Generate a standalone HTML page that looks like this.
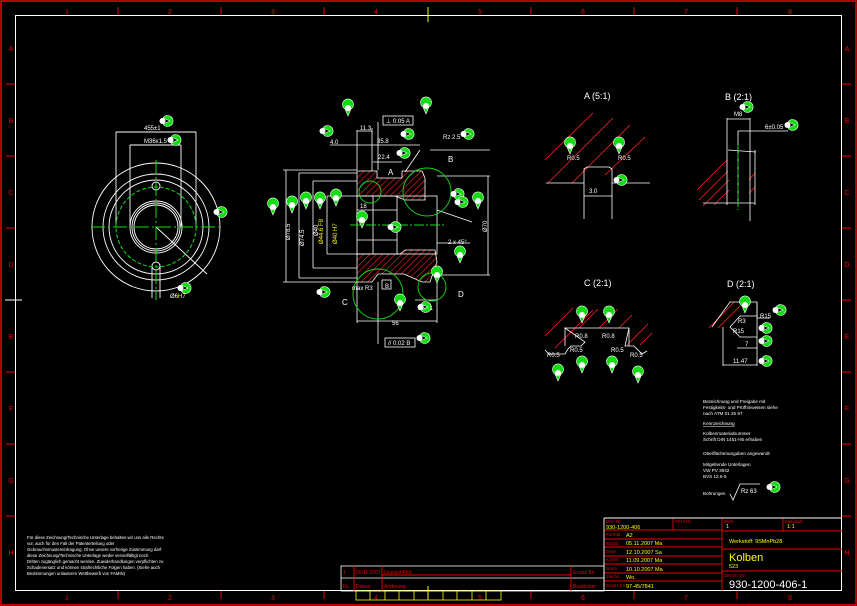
<!DOCTYPE html>
<html><head><meta charset="utf-8"><style>
html,body{margin:0;padding:0;background:#000;width:857px;height:606px;overflow:hidden}
svg{display:block}
text{font-family:"Liberation Sans",sans-serif}
</style></head><body>
<svg width="857" height="606" viewBox="0 0 857 606" xmlns="http://www.w3.org/2000/svg">
<defs>
<pattern id="h" width="4.5" height="4.5" patternUnits="userSpaceOnUse" patternTransform="rotate(45)">
<line x1="0" y1="0" x2="0" y2="4.5" stroke="#f22" stroke-width="1.2"/>
</pattern>
<g id="b"><path d="M0,0 l-7,-3 a5.5,5.5 0 1,1 0,6 z" fill="#1d1" stroke="#fff" stroke-width="0.6"/><circle cx="-7.5" cy="0" r="3" fill="#fff"/></g>
<g id="bd"><path d="M0,0 l-3,-7 a5.5,5.5 0 1,1 6,0 z" fill="#1d1" stroke="#fff" stroke-width="0.6"/><circle cx="0" cy="-8" r="3" fill="#fff"/></g>
</defs>
<rect x="0" y="0" width="857" height="606" fill="#000"/>
<rect x="1" y="1" width="855" height="604" fill="none" stroke="#e00" stroke-width="1.5"/>
<rect x="15.5" y="15.5" width="826" height="575" fill="none" stroke="#fff" stroke-width="1"/>
<g stroke="#e00" stroke-width="1">
<line x1="118" y1="7" x2="118" y2="15"/><line x1="221" y1="7" x2="221" y2="15"/><line x1="324" y1="7" x2="324" y2="15"/><line x1="428" y1="7" x2="428" y2="15"/><line x1="531" y1="7" x2="531" y2="15"/><line x1="634" y1="7" x2="634" y2="15"/><line x1="737" y1="7" x2="737" y2="15"/>
<line x1="118" y1="591" x2="118" y2="599"/><line x1="221" y1="591" x2="221" y2="599"/><line x1="324" y1="591" x2="324" y2="599"/><line x1="428" y1="591" x2="428" y2="599"/><line x1="531" y1="591" x2="531" y2="599"/><line x1="634" y1="591" x2="634" y2="599"/><line x1="737" y1="591" x2="737" y2="599"/>
<line x1="6" y1="84" x2="15" y2="84"/><line x1="6" y1="156" x2="15" y2="156"/><line x1="6" y1="228" x2="15" y2="228"/><line x1="6" y1="300" x2="15" y2="300"/><line x1="6" y1="372" x2="15" y2="372"/><line x1="6" y1="444" x2="15" y2="444"/><line x1="6" y1="516" x2="15" y2="516"/>
<line x1="842" y1="84" x2="851" y2="84"/><line x1="842" y1="156" x2="851" y2="156"/><line x1="842" y1="228" x2="851" y2="228"/><line x1="842" y1="300" x2="851" y2="300"/><line x1="842" y1="372" x2="851" y2="372"/><line x1="842" y1="444" x2="851" y2="444"/><line x1="842" y1="516" x2="851" y2="516"/>
</g>
<g fill="#e00" font-size="7" text-anchor="middle">
<text x="67" y="14">1</text><text x="170" y="14">2</text><text x="273" y="14">3</text><text x="376" y="14">4</text><text x="480" y="14">5</text><text x="583" y="14">6</text><text x="686" y="14">7</text><text x="790" y="14">8</text>
<text x="67" y="600">1</text><text x="170" y="600">2</text><text x="273" y="600">3</text><text x="376" y="600">4</text><text x="480" y="600">5</text><text x="583" y="600">6</text><text x="686" y="600">7</text><text x="790" y="600">8</text>
<text x="11" y="51">A</text><text x="11" y="123">B</text><text x="11" y="195">C</text><text x="11" y="267">D</text><text x="11" y="339">E</text><text x="11" y="411">F</text><text x="11" y="483">G</text><text x="11" y="555">H</text>
<text x="847" y="51">A</text><text x="847" y="123">B</text><text x="847" y="195">C</text><text x="847" y="267">D</text><text x="847" y="339">E</text><text x="847" y="411">F</text><text x="847" y="483">G</text><text x="847" y="555">H</text>
</g>
<line x1="428" y1="7" x2="428" y2="22" stroke="#ff0"/><line x1="428" y1="586" x2="428" y2="599" stroke="#ff0"/>
<line x1="5" y1="300" x2="22" y2="300" stroke="#fff"/>

<!-- left view -->
<g fill="none" stroke="#fff" stroke-width="0.9">
<circle cx="156" cy="227" r="64"/><circle cx="156" cy="227" r="53"/><circle cx="156" cy="227" r="47"/>
<circle cx="156" cy="227" r="26"/><circle cx="156" cy="227" r="24"/><circle cx="156" cy="227" r="22"/>
<circle cx="156" cy="186" r="4"/><circle cx="156" cy="266" r="4"/>
<line x1="152" y1="266" x2="152" y2="298"/><line x1="160" y1="266" x2="160" y2="298"/>
<line x1="116" y1="132" x2="116" y2="227"/><line x1="196" y1="132" x2="196" y2="227"/><line x1="116" y1="132" x2="196" y2="132"/>
<line x1="130" y1="145" x2="130" y2="227"/><line x1="181" y1="145" x2="181" y2="227"/><line x1="130" y1="145" x2="181" y2="145"/>
<line x1="156" y1="227" x2="207" y2="274"/>
</g>
<circle cx="156" cy="227" r="40" fill="none" stroke="#1d1" stroke-dasharray="4 2"/>
<line x1="91" y1="227" x2="219" y2="227" stroke="#1d1" stroke-dasharray="14 3 2 3"/>
<line x1="156" y1="160" x2="156" y2="300" stroke="#1d1" stroke-dasharray="14 3 2 3"/>
<g fill="#fff" font-size="6"><text x="144" y="130">455±1</text><text x="144" y="143">M36x1.5</text><text x="170" y="298">Ø6</text></g>
<text x="178" y="298" fill="#ff0" font-size="6">H7</text>
<use href="#b" x="170" y="121"/><use href="#b" x="178" y="140"/><use href="#b" x="224" y="212"/><use href="#b" x="188" y="288"/>

<!-- main section -->
<polygon points="357,171 377,171 377,178 402,178 402,171 422,171 425,178 425,200 405,200 395,196 357,196" fill="url(#h)" stroke="#fff" stroke-width="0.8"/>
<polygon points="357,254 400,254 405,250 435,250 437,262 430,282 422,282 404,274 378,274 372,282 357,282" fill="url(#h)" stroke="#fff" stroke-width="0.8"/>
<g fill="none" stroke="#fff" stroke-width="0.8">
<rect x="357" y="196" width="80" height="58"/>
<line x1="373" y1="196" x2="373" y2="254"/><line x1="397" y1="196" x2="397" y2="254"/>
<line x1="357" y1="240" x2="397" y2="240"/><line x1="357" y1="210" x2="397" y2="210"/>
<line x1="283" y1="170" x2="357" y2="170"/><line x1="283" y1="282" x2="357" y2="282"/>
<line x1="299" y1="173" x2="357" y2="173"/><line x1="299" y1="278" x2="357" y2="278"/>
<line x1="313" y1="181" x2="357" y2="181"/><line x1="313" y1="268" x2="357" y2="268"/>
<line x1="327" y1="196" x2="357" y2="196"/><line x1="327" y1="254" x2="357" y2="254"/>
<line x1="286" y1="170" x2="286" y2="282"/><line x1="299" y1="173" x2="299" y2="278"/><line x1="313" y1="181" x2="313" y2="268"/><line x1="327" y1="196" x2="327" y2="254"/>
<line x1="437" y1="176" x2="490" y2="176"/><line x1="437" y1="275" x2="490" y2="275"/><line x1="488" y1="176" x2="488" y2="275"/>
<line x1="357" y1="130" x2="357" y2="170"/><line x1="372" y1="128" x2="372" y2="171"/><line x1="357" y1="131" x2="372" y2="131"/>
<line x1="330" y1="145" x2="420" y2="145"/><line x1="373" y1="162" x2="402" y2="162"/>
<line x1="357" y1="282" x2="357" y2="323"/><line x1="437" y1="282" x2="437" y2="323"/><line x1="357" y1="321" x2="437" y2="321"/>
<line x1="415" y1="300" x2="437" y2="300"/>
<line x1="378" y1="122" x2="378" y2="170"/><rect x="383" y="116" width="30" height="9"/>
<line x1="378" y1="282" x2="378" y2="344"/><rect x="385" y="338" width="30" height="9"/>
<rect x="382" y="280" width="9" height="9"/>
<line x1="430" y1="150" x2="490" y2="150"/><line x1="420" y1="150" x2="405" y2="172"/>
<line x1="437" y1="210" x2="472" y2="222"/><line x1="437" y1="243" x2="470" y2="243"/>
</g>
<line x1="350" y1="225" x2="445" y2="225" stroke="#1d1" stroke-dasharray="10 2 2 2"/>
<g fill="none" stroke="#1d1" stroke-width="0.9">
<circle cx="370" cy="192" r="11"/><circle cx="427" cy="192" r="24"/><circle cx="378" cy="294" r="25"/><circle cx="432" cy="287" r="14"/>
</g>
<g fill="#fff" font-size="6">
<text x="360" y="130">11.3</text><text x="330" y="144">4.0</text><text x="377" y="143">35.8</text><text x="378" y="159">22.4</text>
<text x="386" y="123">⊥ 0.05 A</text><text x="388" y="345">// 0.02 B</text><text x="443" y="139">Rz 2.5</text>
<text x="448" y="244">2 x 45°</text><text x="352" y="290">max R3</text><text x="392" y="325">56</text><text x="418" y="310">15.01</text>
<text x="360" y="208">18</text><text x="385" y="288">B</text>
</g>
<g fill="#fff" font-size="8"><text x="388" y="175">A</text><text x="448" y="162">B</text><text x="342" y="305">C</text><text x="458" y="297">D</text></g>
<g fill="#fff" font-size="6"><text transform="translate(290,240) rotate(-90)">Ø78.5</text><text transform="translate(304,246) rotate(-90)">Ø74.5</text><text transform="translate(318,236) rotate(-90)">Ø40</text><text transform="translate(487,232) rotate(-90)">Ø70</text></g>
<g font-size="6" fill="#ff0"><text transform="translate(323,244) rotate(-90)">Ø44.6 F8</text><text transform="translate(337,244) rotate(-90)">Ø40 H7</text></g>
<use href="#bd" x="348" y="116"/><use href="#b" x="330" y="131"/><use href="#bd" x="426" y="114"/><use href="#b" x="411" y="134"/><use href="#b" x="471" y="134"/><use href="#b" x="407" y="153"/>
<use href="#bd" x="273" y="215"/><use href="#bd" x="292" y="213"/><use href="#bd" x="306" y="209"/><use href="#bd" x="320" y="209"/><use href="#bd" x="336" y="206"/><use href="#bd" x="362" y="228"/><use href="#b" x="398" y="227"/>
<use href="#b" x="461" y="194"/><use href="#bd" x="478" y="209"/><use href="#bd" x="460" y="263"/><use href="#bd" x="437" y="283"/><use href="#b" x="327" y="292"/><use href="#bd" x="400" y="311"/><use href="#b" x="428" y="307"/><use href="#b" x="427" y="338"/><use href="#b" x="465" y="202"/>

<!-- Detail A -->
<text x="584" y="99" fill="#fff" font-size="9">A (5:1)</text>
<g stroke="#f22" stroke-width="0.8"><line x1="545" y1="160" x2="593" y2="113"/><line x1="548" y1="183" x2="613" y2="118"/><line x1="572" y1="183" x2="630" y2="125"/><line x1="605" y1="175" x2="645" y2="137"/></g>
<g fill="none" stroke="#fff" stroke-width="0.8"><polyline points="546,183 584,183 584,169 587,167 609,167 612,169 612,183 650,183"/><line x1="584" y1="183" x2="584" y2="219"/><line x1="612" y1="183" x2="612" y2="219"/><line x1="584" y1="196" x2="612" y2="196"/></g>
<g fill="#fff" font-size="6"><text x="567" y="160">R0.5</text><text x="618" y="160">R0.5</text><text x="589" y="193">3.0</text></g>
<use href="#bd" x="570" y="154"/><use href="#bd" x="619" y="154"/><use href="#b" x="624" y="180"/>

<!-- Detail B -->
<text x="725" y="100" fill="#fff" font-size="9">B (2:1)</text>
<g stroke="#f22" stroke-width="0.8"><line x1="697" y1="190" x2="727" y2="160"/><line x1="699" y1="200" x2="728" y2="171"/><line x1="703" y1="206" x2="729" y2="180"/><line x1="714" y1="205" x2="729" y2="190"/><line x1="749" y1="180" x2="755" y2="173"/><line x1="749" y1="193" x2="755" y2="187"/></g>
<g fill="none" stroke="#fff" stroke-width="0.8"><line x1="727" y1="118" x2="727" y2="205"/><line x1="750" y1="118" x2="750" y2="221"/><line x1="727" y1="119" x2="750" y2="119"/><line x1="738" y1="131" x2="788" y2="131"/><line x1="738" y1="131" x2="738" y2="205"/><line x1="703" y1="203" x2="755" y2="203"/><line x1="755" y1="150" x2="755" y2="205"/><line x1="728" y1="150" x2="756" y2="152"/></g>
<line x1="738" y1="145" x2="738" y2="210" stroke="#1d1" stroke-dasharray="6 2"/>
<g fill="#fff" font-size="6"><text x="734" y="116">M8</text><text x="765" y="129">6±0.05</text></g>
<use href="#b" x="750" y="107"/><use href="#b" x="795" y="125"/>

<!-- Detail C -->
<text x="584" y="286" fill="#fff" font-size="9">C (2:1)</text>
<g stroke="#f22" stroke-width="0.8"><line x1="545" y1="336" x2="573" y2="308"/><line x1="555" y1="348" x2="593" y2="310"/><line x1="579" y1="328" x2="598" y2="309"/><line x1="599" y1="328" x2="618" y2="309"/><line x1="619" y1="328" x2="632" y2="315"/><line x1="627" y1="345" x2="648" y2="324"/><line x1="640" y1="345" x2="652" y2="333"/></g>
<g fill="none" stroke="#fff" stroke-width="0.8"><polyline points="545,350 549,354 565,354 568,349 571,346 581,346 585,342 565,328 629,328 625,346 634,346 642,354 647,351"/><line x1="565" y1="328" x2="565" y2="346"/><line x1="629" y1="328" x2="629" y2="346"/></g>
<g fill="#fff" font-size="6"><text x="575" y="338">R0.8</text><text x="602" y="338">R0.8</text><text x="570" y="352">R0.5</text><text x="611" y="352">R0.5</text><text x="547" y="357">R0.5</text><text x="630" y="357">R0.5</text></g>
<use href="#bd" x="582" y="323"/><use href="#bd" x="609" y="323"/><use href="#bd" x="558" y="381"/><use href="#bd" x="582" y="373"/><use href="#bd" x="612" y="373"/><use href="#bd" x="638" y="383"/>

<!-- Detail D -->
<text x="727" y="287" fill="#fff" font-size="9">D (2:1)</text>
<g stroke="#f22" stroke-width="0.8"><line x1="709" y1="328" x2="734" y2="302"/><line x1="718" y1="328" x2="740" y2="306"/></g>
<g fill="none" stroke="#fff" stroke-width="0.8"><polyline points="712,327 730,302 757,302 757,316 740,316 730,327 740,337 757,337"/><line x1="723" y1="327" x2="723" y2="366"/><line x1="757" y1="302" x2="757" y2="366"/><line x1="723" y1="365" x2="757" y2="365"/><line x1="737" y1="348" x2="757" y2="348"/><line x1="757" y1="318" x2="770" y2="318"/></g>
<g fill="#fff" font-size="6"><text x="738" y="323">R3</text><text x="733" y="333">R15</text><text x="760" y="318">R15</text><text x="745" y="346">7</text><text x="733" y="363">11.47</text></g>
<use href="#bd" x="745" y="313"/><use href="#b" x="783" y="310"/><use href="#b" x="769" y="328"/><use href="#b" x="769" y="341"/><use href="#b" x="769" y="361"/>

<!-- notes right -->
<g fill="#fff" font-size="4.6">
<text x="703" y="403">Bezeichnung und Freigabe mit</text><text x="703" y="409">Festigkeits- und Prüfhinweisen siehe</text><text x="703" y="415">nach ATM 01 25 97</text>
<text x="703" y="425" text-decoration="underline">Kennzeichnung</text>
<text x="703" y="435">Kolbenmaterialnummer</text><text x="703" y="441">Schrift DIN 1451-H5 erhaben</text>
<text x="703" y="455">Oberflächenangaben angewandt</text>
<text x="703" y="466">Mitgeltende Unterlagen</text><text x="703" y="472">VW PV 3942</text><text x="703" y="478">BVS 12.5-5</text>
<text x="703" y="495">Bohrungen</text><text x="741" y="493" font-size="6">Rz 63</text></g>
<polyline points="730,494 733,500 740,484 760,484" fill="none" stroke="#fff" stroke-width="0.8"/>
<use href="#b" x="777" y="487"/>

<!-- notes left -->
<g fill="#fff" font-size="4.3">
<text x="27" y="539">Für diese Zeichnung/Technische Unterlage behalten wir uns alle Rechte</text>
<text x="27" y="545">vor, auch für den Fall der Patenterteilung oder</text>
<text x="27" y="551">Gebrauchsmustereintragung. Ohne unsere vorherige Zustimmung darf</text>
<text x="27" y="557">diese Zeichnung/Technische Unterlage weder vervielfältigt noch</text>
<text x="27" y="563">Dritten zugänglich gemacht werden. Zuwiderhandlungen verpflichten zu</text>
<text x="27" y="569">Schadenersatz und können strafrechtliche Folgen haben. (Siehe auch</text>
<text x="27" y="575">Bestimmungen unlauteren Wettbewerb von FAMIN)</text>
</g>

<!-- change table -->
<g fill="none" stroke="#fff" stroke-width="0.8"><rect x="341" y="566" width="263" height="25"/><line x1="341" y1="578" x2="604" y2="578"/></g>
<g stroke="#e00" stroke-width="0.9"><line x1="354" y1="566" x2="354" y2="591"/><line x1="382" y1="566" x2="382" y2="591"/><line x1="571" y1="566" x2="571" y2="591"/><line x1="382" y1="575" x2="571" y2="575"/></g>
<g fill="none" stroke="#ff0" stroke-width="0.8"><rect x="356" y="591" width="145" height="9"/><line x1="370" y1="591" x2="370" y2="600"/><line x1="385" y1="591" x2="385" y2="600"/><line x1="399" y1="591" x2="399" y2="600"/><line x1="414" y1="591" x2="414" y2="600"/><line x1="428" y1="591" x2="428" y2="600"/><line x1="443" y1="591" x2="443" y2="600"/><line x1="457" y1="591" x2="457" y2="600"/><line x1="472" y1="591" x2="472" y2="600"/><line x1="486" y1="591" x2="486" y2="600"/></g>
<g fill="#e00" font-size="5"><text x="343" y="574">1</text><text x="356" y="574">05.11.2007</text><text x="384" y="574">Geplant FKK</text><text x="573" y="574">Ersatz für</text><text x="343" y="588">Nr.</text><text x="356" y="588">Datum</text><text x="384" y="588">Änderung</text><text x="573" y="588">Bearbeiter</text></g>

<!-- title block -->
<g fill="none" stroke="#e00" stroke-width="0.9">
<line x1="604" y1="530" x2="722" y2="530"/><line x1="604" y1="539" x2="722" y2="539"/><line x1="604" y1="547" x2="722" y2="547"/><line x1="604" y1="556" x2="722" y2="556"/><line x1="604" y1="564" x2="722" y2="564"/><line x1="604" y1="573" x2="722" y2="573"/><line x1="604" y1="581" x2="722" y2="581"/>
<line x1="673" y1="518" x2="673" y2="530"/><line x1="722" y1="518" x2="722" y2="591"/><line x1="783" y1="518" x2="783" y2="531"/>
<line x1="722" y1="531" x2="842" y2="531"/><line x1="722" y1="549" x2="842" y2="549"/><line x1="722" y1="571" x2="842" y2="571"/>
</g>
<g fill="none" stroke="#fff" stroke-width="0.9"><line x1="604" y1="518" x2="842" y2="518"/><line x1="604" y1="518" x2="604" y2="591"/></g>
<g fill="#e00" font-size="4.5"><text x="606" y="523">DIV.-Nr.</text><text x="675" y="523">FKH-Nr.</text><text x="724" y="523">Blatt</text><text x="785" y="523">Maßstab</text>
<text x="606" y="536">Format</text><text x="606" y="545">Bearb.</text><text x="606" y="553">Gepr.</text><text x="606" y="561">Konstr.</text><text x="606" y="570">Norm</text><text x="606" y="578">Zeichn.</text><text x="606" y="587">Ersatz für</text><text x="724" y="577">Zeichn.-Nr.</text></g>
<g fill="#ff0" font-size="5.5"><text x="606" y="529">930-1200-406</text><text x="626" y="537">A2</text><text x="626" y="545">05.11.2007  Ma</text><text x="626" y="554">12.10.2007  Sa</text><text x="626" y="562">11.09.2007  Ma</text><text x="626" y="571">10.10.2007  Ma</text><text x="626" y="579">Wo.</text><text x="626" y="588">97-45/7841</text>
<text x="726" y="528">1</text><text x="787" y="528">1:1</text><text x="729" y="543">Werkstoff: 9SMnPb28</text><text x="729" y="568">523</text></g>
<text x="729" y="561" fill="#ff0" font-size="11">Kolben</text>
<text x="729" y="588" fill="#fff" font-size="11">930-1200-406-1</text>
</svg>
</body></html>
